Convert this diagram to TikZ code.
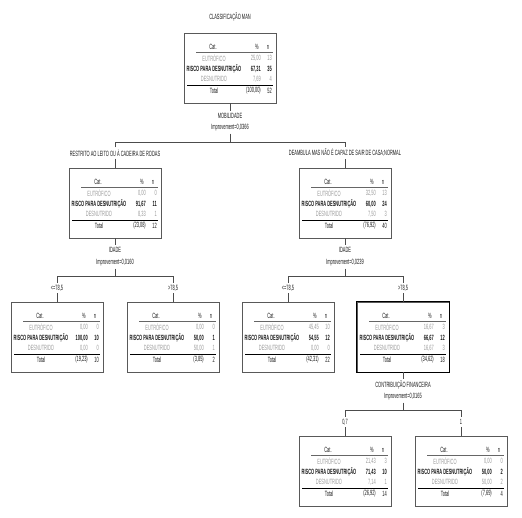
\documentclass[tikz,border=0pt]{standalone}
\usepackage{fontspec}
\setmainfont{Liberation Sans}[FakeStretch=0.52]

% one table node of the tree: name, then % and n of each row, then total
\newcommand{\catbox}[9]{%
  \node[catnode] (#1) at (0,35) {};
  \node[txt] at (-17,14) {Cat.};
  \node[txt] at (27,14) {\%};
  \node[txt] at (38,14) {n};
  \draw[headline] (-34,19) -- (43,19);
  \node[txt, faded] at (-16,25) {EUTRÓFICO};
  \node[val, faded] at (31,25) {#2};
  \node[val, faded] at (42,25) {#3};
  \node[txt, font=\fontsize{7.6}{8}\selectfont\bfseries] at (-16,36) {RISCO PARA DESNUTRIÇÃO};
  \node[val, font=\fontsize{7.6}{8}\selectfont\bfseries] at (31,36) {#4};
  \node[val, font=\fontsize{7.6}{8}\selectfont\bfseries] at (42,36) {#5};
  \node[txt, faded] at (-16,46) {DESNUTRIDO};
  \node[val, faded] at (31,46) {#6};
  \node[val, faded] at (42,46) {#7};
  \draw[totalline] (-43,52) -- (43,52);
  \node[txt] at (-16,58) {Total};
  \node[val] at (31,58) {#8};
  \node[val] at (42,58) {#9};
}

\begin{document}
\begin{tikzpicture}[x=1pt, y=-1pt,
    txt/.style={inner sep=0pt, font=\fontsize{7.6}{8}\selectfont, text=black!90},
    val/.style={txt, anchor=east},
    faded/.style={text=black!40},
    catnode/.style={draw=black!65, line width=0.6pt, minimum width=92pt, minimum height=70pt, inner sep=0pt},
    headline/.style={draw=black!60, line width=0.5pt},
    totalline/.style={draw=black, line width=0.8pt},
    splitlabel/.style={txt, inner sep=2pt},
    link/.style={draw=black!70, line width=0.6pt}]

    \useasboundingbox (0,0) rectangle (522,517);

    % Root node
    \node[txt] (title) at (230,17) {CLASSIFICAÇÃO MAN};
    \begin{scope}[shift={(230,33)}]
        \catbox{root}{25,00}{13}{67,31}{35}{7,69}{4}{(100,00)}{52}
    \end{scope}

    % Split on MOBILIDADE
    \node[splitlabel] (vmob) at (230,116) {MOBILIDADE};
    \node[splitlabel] (imob) at (230,128) {Improvement=0,0366};
    \coordinate (jmob) at (230,142);
    \node[splitlabel] (lrest) at (115,153) {RESTRITO AO LEITO OU À CADEIRA DE RODAS};
    \node[splitlabel] (ldeamb) at (345,153) {DEAMBULA MAS NÃO É CAPAZ DE SAIR DE CASA;NORMAL};
    \draw[link] (root.south) -- (vmob.north);
    \draw[link] (imob.south) -- (jmob);
    \draw[link] (lrest.north) -- (lrest.north |- jmob) -- (ldeamb.north |- jmob) -- (ldeamb.north);

    % Second level
    \begin{scope}[shift={(115,168)}]
        \catbox{rest}{0,00}{0}{91,67}{11}{8,33}{1}{(23,08)}{12}
    \end{scope}
    \begin{scope}[shift={(345,168)}]
        \catbox{deamb}{32,50}{13}{60,00}{24}{7,50}{3}{(76,92)}{40}
    \end{scope}
    \draw[link] (lrest.south) -- (rest.north);
    \draw[link] (ldeamb.south) -- (deamb.north);

    % Split of the left node on IDADE
    \node[splitlabel] (vage1) at (115,250) {IDADE};
    \node[splitlabel] (iage1) at (115,263) {Improvement=0,0160};
    \coordinate (jage1) at (115,276);
    \node[splitlabel] (llo1) at (57,288) {<=78,5};
    \node[splitlabel] (lhi1) at (173,288) {>78,5};
    \draw[link] (rest.south) -- (vage1.north);
    \draw[link] (iage1.south) -- (jage1);
    \draw[link] (llo1.north) -- (llo1.north |- jage1) -- (lhi1.north |- jage1) -- (lhi1.north);

    % Split of the right node on IDADE
    \node[splitlabel] (vage2) at (345,250) {IDADE};
    \node[splitlabel] (iage2) at (345,263) {Improvement=0,0239};
    \coordinate (jage2) at (345,276);
    \node[splitlabel] (llo2) at (288,288) {<=78,5};
    \node[splitlabel] (lhi2) at (403,288) {>78,5};
    \draw[link] (deamb.south) -- (vage2.north);
    \draw[link] (iage2.south) -- (jage2);
    \draw[link] (llo2.north) -- (llo2.north |- jage2) -- (lhi2.north |- jage2) -- (lhi2.north);

    % Third level
    \begin{scope}[shift={(57,302)}]
        \catbox{lo1}{0,00}{0}{100,00}{10}{0,00}{0}{(19,23)}{10}
    \end{scope}
    \begin{scope}[shift={(173,302)}]
        \catbox{hi1}{0,00}{0}{50,00}{1}{50,00}{1}{(3,85)}{2}
    \end{scope}
    \begin{scope}[shift={(288,302)}]
        \catbox{lo2}{45,45}{10}{54,55}{12}{0,00}{0}{(42,31)}{22}
    \end{scope}
    \begin{scope}[shift={(403,302)}]
        \catbox{hi2}{16,67}{3}{66,67}{12}{16,67}{3}{(34,62)}{18}
    \end{scope}
    \draw[black, line width=1.3pt] (hi2.north west) rectangle (hi2.south east);
    \draw[link] (llo1.south) -- (lo1.north);
    \draw[link] (lhi1.south) -- (hi1.north);
    \draw[link] (llo2.south) -- (lo2.north);
    \draw[link] (lhi2.south) -- (hi2.north);

    % Split on CONTRIBUIÇÃO FINANCEIRA
    \node[splitlabel] (vcontr) at (403,385) {CONTRIBUIÇÃO FINANCEIRA};
    \node[splitlabel] (icontr) at (403,397) {Improvement=0,0165};
    \coordinate (jcontr) at (403,410);
    \node[splitlabel] (lseven) at (345,422) {0,7};
    \node[splitlabel] (lone) at (461,422) {1};
    \draw[link] (hi2.south) -- (vcontr.north);
    \draw[link] (icontr.south) -- (jcontr);
    \draw[link] (lseven.north) -- (lseven.north |- jcontr) -- (lone.north |- jcontr) -- (lone.north);

    % Fourth level
    \begin{scope}[shift={(345,436)}]
        \catbox{seven}{21,43}{3}{71,43}{10}{7,14}{1}{(26,92)}{14}
    \end{scope}
    \begin{scope}[shift={(461,436)}]
        \catbox{one}{0,00}{0}{50,00}{2}{50,00}{2}{(7,69)}{4}
    \end{scope}
    \draw[link] (lseven.south) -- (seven.north);
    \draw[link] (lone.south) -- (one.north);
\end{tikzpicture}
\end{document}
